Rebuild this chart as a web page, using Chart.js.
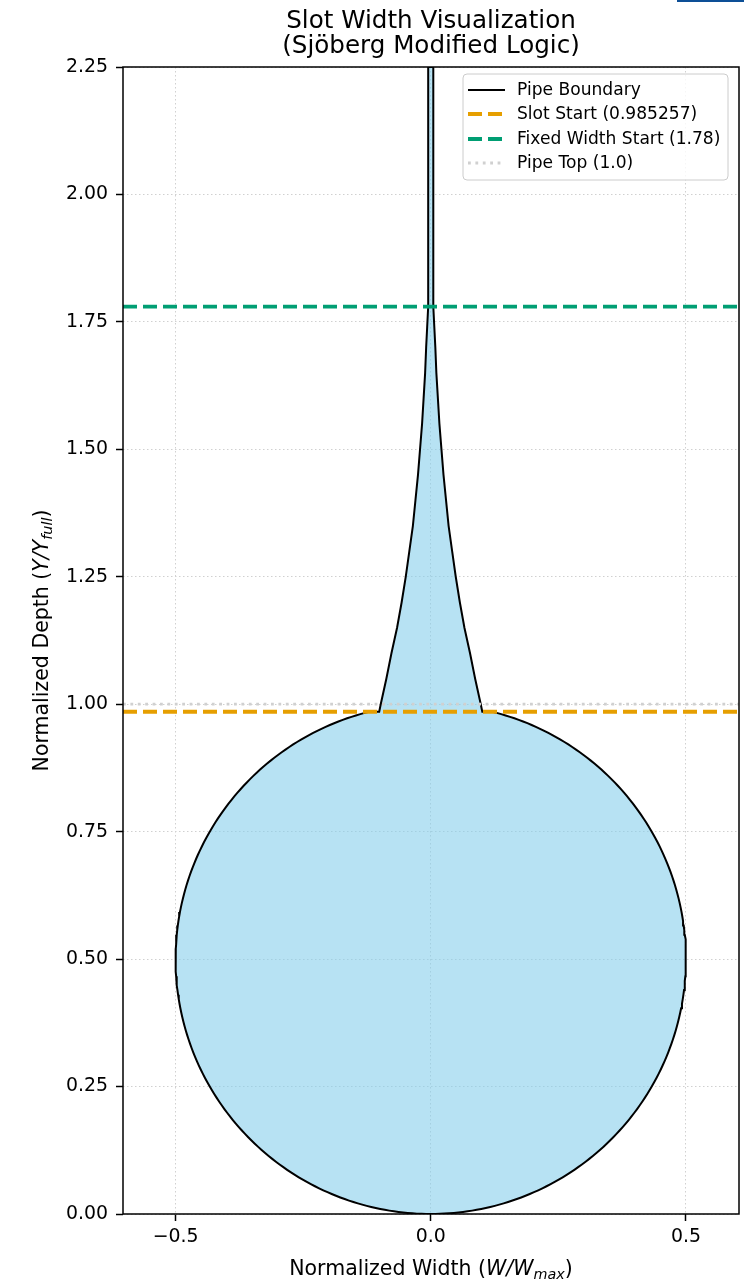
<!DOCTYPE html>
<html>
<head>
<meta charset="utf-8">
<script src="https://cdn.jsdelivr.net/npm/chart.js@4.4.1/dist/chart.umd.min.js"></script>
<style>
  html, body { margin: 0; padding: 0; background: #fff; }
  #wrap { position: relative; width: 744px; height: 1280px; }
  #topbar { position: absolute; left: 677px; top: 0; width: 67px; height: 2px; background: #0d4f96; }
</style>
</head>
<body>
<div id="wrap">
  <canvas id="chart" width="744" height="1280"></canvas>
  <div id="topbar"></div>
</div>
<script>
// ---- chart content ----
const titleLines = ['Slot Width Visualization', '(Sjöberg Modified Logic)'];
const xTicks = [-0.5, 0.0, 0.5];
const yTicks = [0, 0.25, 0.5, 0.75, 1.0, 1.25, 1.5, 1.75, 2.0, 2.25];
const xMin = -0.603, xMax = 0.604;
const yMin = 0, yMax = 2.25;

const pipeDiameter = 1.0;          // normalized full depth / width of the pipe
const slotStart = 0.985257;        // depth where the slot replaces the circle
const fixedWidthStart = 1.78;      // depth above which the slot width is constant
const pipeTop = 1.0;

// slot profile: depth and half of the normalized slot width
const slotDepths     = [0.985257, 1.0,   1.05,  1.1,   1.15,  1.2,   1.25,  1.3,   1.35,  1.4,
                        1.45,     1.5,   1.55,  1.6,   1.65,  1.7,   1.74,  1.78,  2.25];
const slotHalfWidths = [0.101,    0.098, 0.087, 0.077, 0.066, 0.057, 0.049, 0.042, 0.035, 0.030,
                        0.025,    0.021, 0.017, 0.014, 0.011, 0.009, 0.007, 0.005, 0.005];

// ---- outline of pipe + slot as one closed path ----
function buildOutline() {
  const r = pipeDiameter / 2;
  const cy = r;
  const tEnd = Math.acos((cy - slotStart) / r);   // angle from bottom where circle meets slot start
  const steps = 160;
  const right = [];
  for (let i = 0; i <= steps; i++) {
    const t = tEnd * i / steps;
    right.push({ x: r * Math.sin(t), y: cy - r * Math.cos(t) });
  }
  const pts = right.slice();
  for (let i = 0; i < slotDepths.length; i++) pts.push({ x: slotHalfWidths[i], y: slotDepths[i] });
  for (let i = slotDepths.length - 1; i >= 0; i--) pts.push({ x: -slotHalfWidths[i], y: slotDepths[i] });
  for (let i = right.length - 1; i >= 0; i--) pts.push({ x: -right[i].x, y: right[i].y });
  return pts;
}

const FONT = '"DejaVu Sans", "Liberation Sans", sans-serif';
const TICK_SIZE = 18.9;
const LABEL_SIZE = 20.5;
const TITLE_SIZE = 24.6;
const LEGEND_SIZE = 17.1;

function hline(y) { return [{ x: xMin, y: y }, { x: xMax, y: y }]; }

const datasets = [
  {
    label: 'Pipe Boundary', data: buildOutline(), showLine: true,
    borderColor: '#000000', borderWidth: 2, backgroundColor: 'rgba(135,206,235,0.6)',
    fill: 'shape', pointRadius: 0, tension: 0, order: 1
  },
  {
    label: 'Slot Start (' + slotStart + ')', data: hline(slotStart), showLine: true,
    borderColor: '#E69F00', borderWidth: 3.8, borderDash: [14, 6], pointRadius: 0, order: 0
  },
  {
    label: 'Fixed Width Start (' + fixedWidthStart + ')', data: hline(fixedWidthStart), showLine: true,
    borderColor: '#009E73', borderWidth: 3.8, borderDash: [14, 6], pointRadius: 0, order: 0
  },
  {
    label: 'Pipe Top (' + pipeTop.toFixed(1) + ')', data: hline(pipeTop), showLine: true,
    borderColor: '#d0d0d0', borderWidth: 2.8, borderDash: [2.8, 4.6], pointRadius: 0, order: 0
  }
];

function drawRich(ctx, parts, x, y) {
  let total = 0;
  parts.forEach(p => { ctx.font = p.font; p.w = ctx.measureText(p.t).width; total += p.w; });
  let cx = x - total / 2;
  ctx.textAlign = 'left';
  ctx.textBaseline = 'alphabetic';
  parts.forEach(p => { ctx.font = p.font; ctx.fillText(p.t, cx, y + (p.dy || 0)); cx += p.w; });
}

function labelParts(prefix, base, sub) {
  const s = LABEL_SIZE;
  return [
    { t: prefix, font: s + 'px ' + FONT },
    { t: base, font: 'italic ' + s + 'px ' + FONT },
    { t: sub, font: 'italic ' + (s * 0.7) + 'px ' + FONT, dy: s * 0.2 },
    { t: ')', font: s + 'px ' + FONT }
  ];
}

const decorations = {
  id: 'decorations',
  afterDraw(chart) {
    const ctx = chart.ctx;
    const a = chart.chartArea;
    ctx.save();

    // frame
    ctx.strokeStyle = '#000';
    ctx.lineWidth = 1.5;
    ctx.strokeRect(a.left, a.top, a.right - a.left, a.bottom - a.top);

    // title
    const cx = (a.left + a.right) / 2;
    ctx.fillStyle = '#000';
    ctx.font = TITLE_SIZE + 'px ' + FONT;
    ctx.textAlign = 'center';
    ctx.textBaseline = 'alphabetic';
    ctx.fillText(titleLines[0], cx, 28);
    ctx.fillText(titleLines[1], cx, 53);

    // axis labels
    drawRich(ctx, labelParts('Normalized Width (', 'W/W', 'max'), cx, 1275);
    ctx.save();
    ctx.translate(48, (a.top + a.bottom) / 2);
    ctx.rotate(-Math.PI / 2);
    drawRich(ctx, labelParts('Normalized Depth (', 'Y/Y', 'full'), 0, 0);
    ctx.restore();

    // legend
    const bx = 463, by = 74, bw = 265, bh = 106, rad = 4;
    ctx.beginPath();
    ctx.roundRect(bx, by, bw, bh, rad);
    ctx.fillStyle = 'rgba(255,255,255,0.8)';
    ctx.fill();
    ctx.strokeStyle = '#cccccc';
    ctx.lineWidth = 1;
    ctx.stroke();
    const rows = [90, 114, 139, 163];
    chart.data.datasets.forEach((ds, i) => {
      const y = rows[i];
      ctx.beginPath();
      ctx.setLineDash(ds.borderDash || []);
      ctx.lineDashOffset = 0;
      ctx.strokeStyle = ds.borderColor;
      ctx.lineWidth = ds.borderWidth;
      ctx.moveTo(468, y);
      ctx.lineTo(505, y);
      ctx.stroke();
      ctx.setLineDash([]);
      ctx.fillStyle = '#000';
      ctx.font = LEGEND_SIZE + 'px ' + FONT;
      ctx.textAlign = 'left';
      ctx.textBaseline = 'middle';
      ctx.fillText(ds.label, 517, y + 1);
    });
    ctx.restore();
  }
};

function fmtX(v) {
  if (v === 0) return '0.0';
  return (v < 0 ? '\u2212' : '') + Math.abs(v).toFixed(1);
}

new Chart(document.getElementById('chart'), {
  type: 'scatter',
  data: { datasets: datasets },
  options: {
    responsive: false,
    animation: false,
    devicePixelRatio: 1,
    layout: { padding: { top: 67, right: 5, left: 0, bottom: 0 } },
    plugins: { legend: { display: false }, title: { display: false }, tooltip: { enabled: false } },
    scales: {
      x: {
        type: 'linear', min: xMin, max: xMax,
        afterBuildTicks: s => { s.ticks = xTicks.map(v => ({ value: v })); },
        afterFit: s => { s.height = 66; },
        grid: { color: '#d0d0d0', lineWidth: 1, tickColor: '#000', tickLength: 7, tickWidth: 1.5 },
        border: { display: false, dash: [1.5, 2.5] },
        ticks: { color: '#000', font: { family: FONT, size: TICK_SIZE }, padding: 5, maxRotation: 0, callback: v => fmtX(v) }
      },
      y: {
        type: 'linear', min: yMin, max: yMax,
        afterBuildTicks: s => { s.ticks = yTicks.map(v => ({ value: v })); },
        afterFit: s => { s.width = 123; },
        grid: { color: '#d0d0d0', lineWidth: 1, tickColor: '#000', tickLength: 7, tickWidth: 1.5 },
        border: { display: false, dash: [1.5, 2.5] },
        ticks: { color: '#000', font: { family: FONT, size: TICK_SIZE }, padding: 8, callback: v => v.toFixed(2) }
      }
    }
  },
  plugins: [decorations]
});
</script>
</body>
</html>
